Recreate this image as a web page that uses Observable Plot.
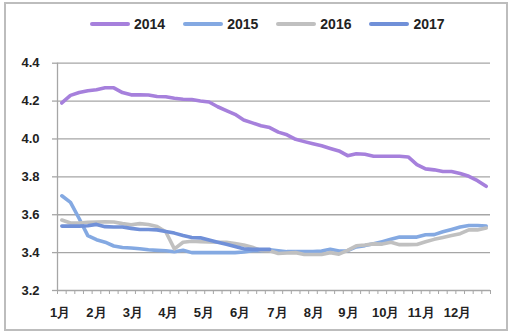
<!DOCTYPE html>
<html><head><meta charset="utf-8">
<script src="https://cdn.jsdelivr.net/npm/d3@7"></script>
<script src="https://cdn.jsdelivr.net/npm/@observablehq/plot@0.6"></script>
<style>
body{margin:0;background:#fff;font-family:"Liberation Sans",Arial,sans-serif;}
#wrap{position:relative;width:516px;height:335px;overflow:hidden;}
#frame{position:absolute;left:4px;top:2px;width:504px;height:329px;border:2px solid #bdbdbd;box-sizing:border-box;pointer-events:none;}
#legend{height:48px;box-sizing:border-box;display:flex;align-items:center;padding-left:90px;font-weight:bold;font-size:14px;color:#222;}
.item{display:flex;align-items:center;margin-right:18px;}
.sw{display:inline-block;width:40px;height:4px;border-radius:2px;margin-right:4px;}
#chart svg{display:block;}
</style></head>
<body><div id="wrap"><div id="legend"></div><div id="chart"></div><div id="frame"></div></div>
<script>
const seriesNames = ["2014","2015","2016","2017"];
const seriesColors = ["#a680dc","#84a9e2","#c0c0c0","#7090d8"];
const monthLabels = ["1月","2月","3月","4月","5月","6月","7月","8月","9月","10月","11月","12月"];
const monthPos = [-0.2,4.0,8.2,12.3,16.4,20.6,24.9,29.1,33.1,37.4,41.5,45.7];
const yTicks = [3.2,3.4,3.6,3.8,4.0,4.2,4.4];
const weekTicks = d3.range(-0.5, 50, 1);

const v2014 = [4.19,4.23,4.245,4.255,4.26,4.27,4.27,4.245,4.233,4.233,4.232,4.224,4.223,4.215,4.21,4.208,4.2,4.195,4.17,4.15,4.13,4.10,4.085,4.07,4.06,4.036,4.022,3.998,3.986,3.975,3.964,3.95,3.937,3.912,3.922,3.919,3.909,3.909,3.909,3.909,3.905,3.865,3.842,3.837,3.828,3.828,3.818,3.803,3.78,3.75];
const v2015 = [3.70,3.665,3.58,3.49,3.468,3.455,3.435,3.427,3.424,3.42,3.415,3.412,3.41,3.405,3.412,3.40,3.40,3.40,3.40,3.40,3.40,3.403,3.41,3.41,3.415,3.41,3.405,3.405,3.405,3.405,3.408,3.418,3.408,3.41,3.43,3.437,3.447,3.458,3.47,3.482,3.482,3.482,3.494,3.495,3.51,3.522,3.535,3.543,3.543,3.54];
const v2016 = [3.572,3.556,3.556,3.56,3.561,3.563,3.562,3.553,3.547,3.553,3.548,3.538,3.51,3.42,3.455,3.46,3.458,3.456,3.455,3.455,3.448,3.44,3.428,3.412,3.41,3.395,3.398,3.40,3.39,3.39,3.39,3.40,3.392,3.412,3.436,3.44,3.446,3.445,3.455,3.442,3.442,3.443,3.457,3.47,3.48,3.49,3.50,3.52,3.52,3.53];
const v2017 = [3.54,3.54,3.54,3.542,3.549,3.537,3.535,3.535,3.528,3.522,3.522,3.52,3.512,3.503,3.49,3.48,3.478,3.466,3.455,3.444,3.432,3.42,3.417,3.417,3.417];

const allValues = [v2014, v2015, v2016, v2017];
const data = [];
allValues.forEach((vals, s) => vals.forEach((v, i) => data.push({series: seriesNames[s], week: i, value: v})));

const legend = document.getElementById("legend");
seriesNames.forEach((n, i) => {
  const it = document.createElement("div"); it.className = "item";
  it.innerHTML = `<span class="sw" style="background:${seriesColors[i]}"></span><span>${n}</span>`;
  legend.appendChild(it);
});

const monthMap = new Map(monthPos.map((p, i) => [p, monthLabels[i]]));
const axisColor = "#a6a6a6";

const chart = Plot.plot({
  width: 516, height: 287,
  marginTop: 14.7, marginBottom: 45, marginLeft: 57, marginRight: 26,
  x: {domain: [-0.5, 49.5]},
  y: {domain: [3.2, 4.4]},
  color: {domain: seriesNames, range: seriesColors},
  style: {fontFamily: '"Liberation Sans", Arial, sans-serif', fontSize: "13px", fontWeight: "bold", color: "#222", background: "transparent"},
  marks: [
    Plot.gridY(yTicks, {stroke: axisColor, strokeOpacity: 1, strokeWidth: 1.3}),
    Plot.axisY(yTicks, {tickSize: 5, tickPadding: 13, tickFormat: d => d.toFixed(1), stroke: axisColor, strokeWidth: 1.3, label: null}),
    Plot.ruleX([-0.5], {y1: 3.2, y2: 4.4, stroke: axisColor, strokeWidth: 1.3}),
    Plot.axisX(weekTicks, {tickSize: 4, tickFormat: () => "", stroke: axisColor, label: null}),
    Plot.axisX(monthPos, {tickSize: 0, tickPadding: 17, tickFormat: d => monthMap.get(d), label: null}),
    Plot.line(data, {x: "week", y: "value", z: "series", stroke: "series", strokeWidth: 3.6, strokeLinejoin: "round", strokeLinecap: "round"})
  ]
});
document.getElementById("chart").appendChild(chart);
</script>
</body></html>
